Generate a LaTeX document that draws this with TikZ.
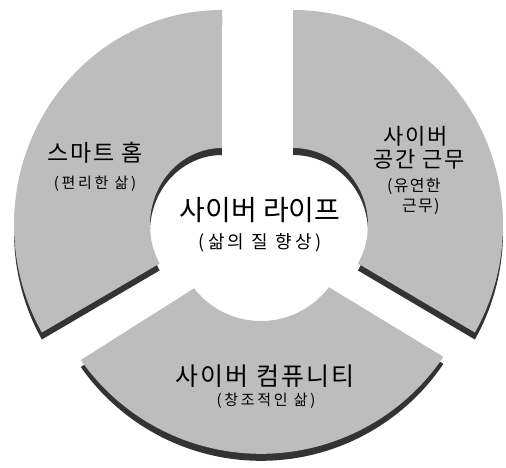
\documentclass[tikz,border=0pt]{standalone}
\usepackage{fontspec}
\newfontfamily\ko{Noto Sans CJK KR}
\newfontfamily\kosp[LetterSpace=8]{Noto Sans CJK KR}
\newfontfamily\kowide[LetterSpace=18]{Noto Sans CJK KR}
\definecolor{slicegray}{gray}{0.74}
\definecolor{shadowgray}{gray}{0.2}
\tikzset{
  slicefill/.style={fill=slicegray},
  shadowfill/.style={fill=shadowgray, yshift=-7pt},
  txt/.style={inner sep=0pt, text=black}
}
\def\leftslice{(222,458) arc[start angle=90,end angle=210,x radius=208,y radius=215] -- (159.6,204.5) arc[start angle=210,end angle=90,x radius=72,y radius=77] -- cycle}
\def\rightslice{(293,458) arc[start angle=90,end angle=-30,x radius=210,y radius=215] -- (357.95,204.5) arc[start angle=-30,end angle=90,x radius=75,y radius=77] -- cycle}
\def\bottomslice{(80.8,108) arc[start angle=215,end angle=326,radius=220] -- (328.9,180.8) arc[start angle=323,end angle=218,radius=85] -- cycle}
\begin{document}
\begin{tikzpicture}[x=1pt,y=1pt]
\useasboundingbox (0,0) rectangle (506,468);
% shadows
\fill[shadowfill] \leftslice;
\fill[shadowfill] \rightslice;
\fill[shadowfill] \bottomslice;
% slices
\fill[slicefill] \leftslice;
\fill[slicefill] \rightslice;
\fill[slicefill] \bottomslice;
% centre
\node[txt] (life) at (260,258) {\fontsize{28}{28}\selectfont\ko 사이버 라이프};
\node[txt] (lifesub) at (260,225) {\fontsize{18}{18}\selectfont\kowide (삶의 질 향상)};
% left
\node[txt] (home) at (95,315) {\fontsize{23}{23}\selectfont\kosp 스마트 홈};
\node[txt] (homesub) at (95,284) {\fontsize{15}{15}\selectfont\kowide (편리한 삶)};
% right
\node[txt] (work1) at (416,332) {\fontsize{22}{22}\selectfont\kosp 사이버};
\node[txt] (work2) at (419,309) {\fontsize{22}{22}\selectfont\kosp 공간 근무};
\node[txt, anchor=west] (worksub1) at (387,282) {\fontsize{16}{16}\selectfont\kosp (유연한};
\node[txt, anchor=west] (worksub2) at (402,261) {\fontsize{16}{16}\selectfont\kosp 근무)};
% bottom
\node[txt] (comm) at (265,92) {\fontsize{25}{25}\selectfont\kosp 사이버 컴퓨니티};
\node[txt] (commsub) at (266,67) {\fontsize{15}{15}\selectfont\kowide (창조적인 삶)};
\end{tikzpicture}
\end{document}
